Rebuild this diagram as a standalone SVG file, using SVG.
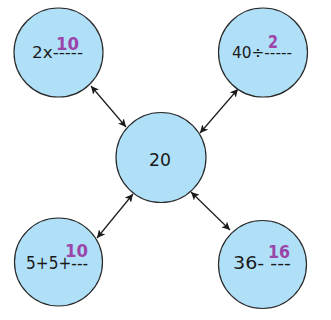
<svg xmlns="http://www.w3.org/2000/svg" width="331" height="320" viewBox="0 0 331 320">
<style>
.n{fill:#b0e0f8;stroke:#2a2a2a;stroke-width:1.2}
.t{font-family:"DejaVu Sans","Liberation Sans",sans-serif;font-size:16px;fill:#1a1a1a}
.p{font-family:"DejaVu Sans","Liberation Sans",sans-serif;font-size:17px;font-weight:bold;fill:#9b45a8}
.c{stroke:#1a1a1a;stroke-width:1.2;fill:none;marker-start:url(#ah);marker-end:url(#ah)}
</style>
<defs>
<marker id="ah" viewBox="0 0 10 10" refX="10" refY="5" markerWidth="8" markerHeight="8" markerUnits="userSpaceOnUse" orient="auto-start-reverse">
<path d="M0,0 L10,5 L0,10 L2.5,5 Z" fill="#1a1a1a"/>
</marker>
</defs>
<rect width="331" height="320" fill="#fff"/>
<g id="connectors">
<line class="c" x1="91" y1="86" x2="126" y2="127"/>
<line class="c" x1="238" y1="89" x2="200" y2="133"/>
<line class="c" x1="133" y1="194" x2="97" y2="238"/>
<line class="c" x1="191" y1="192" x2="230" y2="230"/>
</g>
<g id="n-tl">
<circle class="n" cx="58.5" cy="52.5" r="44.5"/>
<text class="t" x="32" y="58" textLength="51" lengthAdjust="spacingAndGlyphs">2x-----</text>
<text class="p" x="56" y="50" textLength="23" lengthAdjust="spacingAndGlyphs">10</text>
</g>
<g id="n-tr">
<circle class="n" cx="263" cy="52.5" r="44.5"/>
<text class="t" x="232" y="58" textLength="60" lengthAdjust="spacingAndGlyphs">40÷-----</text>
<text class="p" x="268" y="48" textLength="10" lengthAdjust="spacingAndGlyphs">2</text>
</g>
<g id="n-c">
<circle class="n" cx="161" cy="157.5" r="45"/>
<text class="t" x="149" y="166" style="font-size:17px" textLength="22" lengthAdjust="spacingAndGlyphs">20</text>
</g>
<g id="n-bl">
<circle class="n" cx="58.5" cy="262" r="44"/>
<text class="t" x="26" y="269" style="font-size:17px" textLength="62" lengthAdjust="spacingAndGlyphs">5+5+---</text>
<text class="p" x="65" y="257" textLength="23" lengthAdjust="spacingAndGlyphs">10</text>
</g>
<g id="n-br">
<circle class="n" cx="262.5" cy="264.5" r="44"/>
<text class="t" x="233" y="269" style="font-size:17px" textLength="58" lengthAdjust="spacingAndGlyphs">36- ---</text>
<text class="p" x="268" y="258" textLength="22" lengthAdjust="spacingAndGlyphs">16</text>
</g>
</svg>
